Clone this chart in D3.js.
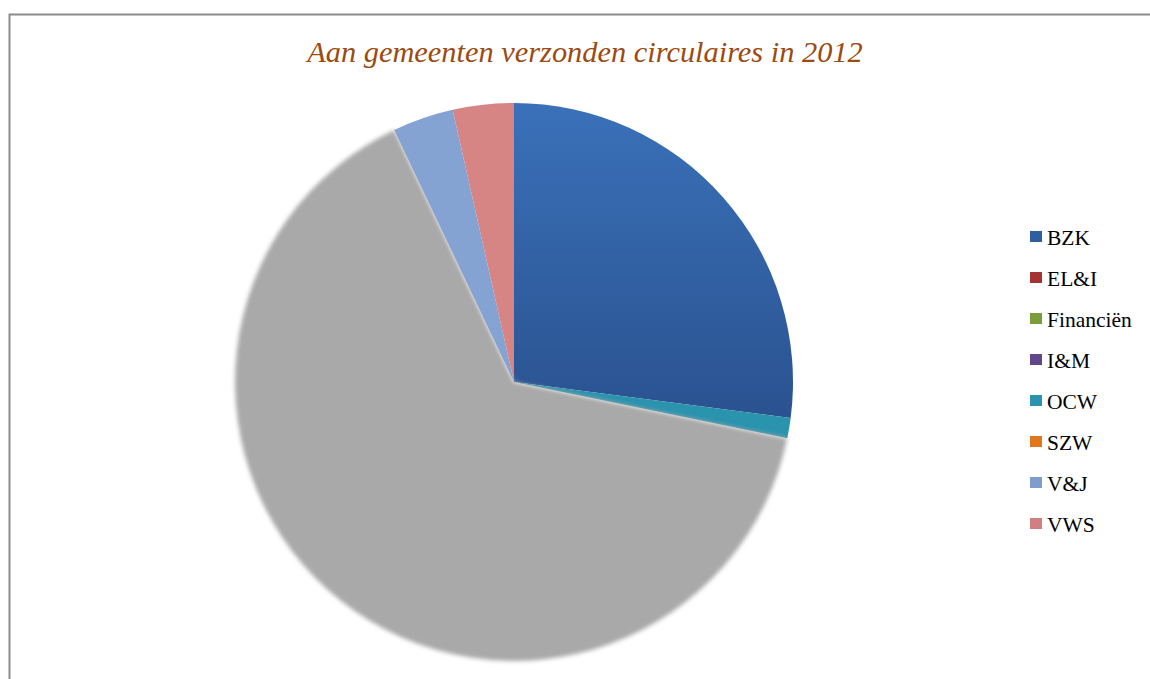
<!DOCTYPE html>
<html><head><meta charset="utf-8">
<script src="https://cdn.jsdelivr.net/npm/d3@7"></script>
<style>body{margin:0;background:#fff;}svg{display:block;}</style>
</head><body>
<svg id="chart" width="1150" height="679"></svg>
<script>
const categories = ["BZK","EL&I","Financiën","I&M","OCW","SZW","V&J","VWS"];
const values = [23, 0, 0, 0, 1, 55, 3, 3];
const legendColors = ["#2f5f9e","#a33431","#7a9c3a","#60478a","#2a93ae","#e0761e","#7f9ccc","#d08080"];
const sliceColors = ["#3468ad","#a33431","#7a9c3a","#60478a","#2a93ae","#a9a9a9","#84a2d2","#d68584"];
const title = "Aan gemeenten verzonden circulaires in 2012";

const svg = d3.select("#chart");
const defs = svg.append("defs");
defs.append("filter").attr("id","soft").attr("x","-10%").attr("y","-10%").attr("width","120%").attr("height","120%")
  .append("feGaussianBlur").attr("stdDeviation",2.2);
const g1 = defs.append("linearGradient").attr("id","gBZK").attr("x1",0).attr("y1",0).attr("x2",0).attr("y2",1);
g1.append("stop").attr("offset","0%").attr("stop-color","#3a71b9");
g1.append("stop").attr("offset","100%").attr("stop-color","#2a5290");

// border
svg.append("rect").attr("x",9.5).attr("y",14.5).attr("width",1200).attr("height",700)
  .attr("fill","none").attr("stroke","#8c8c8c").attr("stroke-width",2);

svg.append("text").attr("x",585).attr("y",62).attr("text-anchor","middle")
  .attr("font-family","'Liberation Serif', serif").attr("font-style","italic")
  .attr("font-size",30.4).attr("fill","#9c4a10").text(title);

const cx = 514, cy = 382, r = 279;
const pie = d3.pie().sort(null).value(d => d)(values);
const arc = d3.arc().innerRadius(0).outerRadius(r);
const gp = svg.append("g").attr("transform",`translate(${cx},${cy})`);
gp.selectAll("path").data(pie).join("path")
  .filter(d => d.data > 0)
  .attr("d", arc)
  .attr("fill", d => d.index === 0 ? "url(#gBZK)" : sliceColors[d.index])
  .attr("filter", d => d.index === 5 ? "url(#soft)" : null);

const lg = svg.append("g");
const ly = d3.scalePoint().domain(categories).range([237, 524]);
categories.forEach((c,i) => {
  lg.append("rect").attr("x",1030).attr("y",ly(c)-6).attr("width",12).attr("height",11).attr("fill",legendColors[i]);
  lg.append("text").attr("x",1047).attr("y",ly(c)+8).attr("font-family","'Liberation Serif', serif")
    .attr("font-size",21.5).attr("fill","#000").text(c);
});
</script>
</body></html>
